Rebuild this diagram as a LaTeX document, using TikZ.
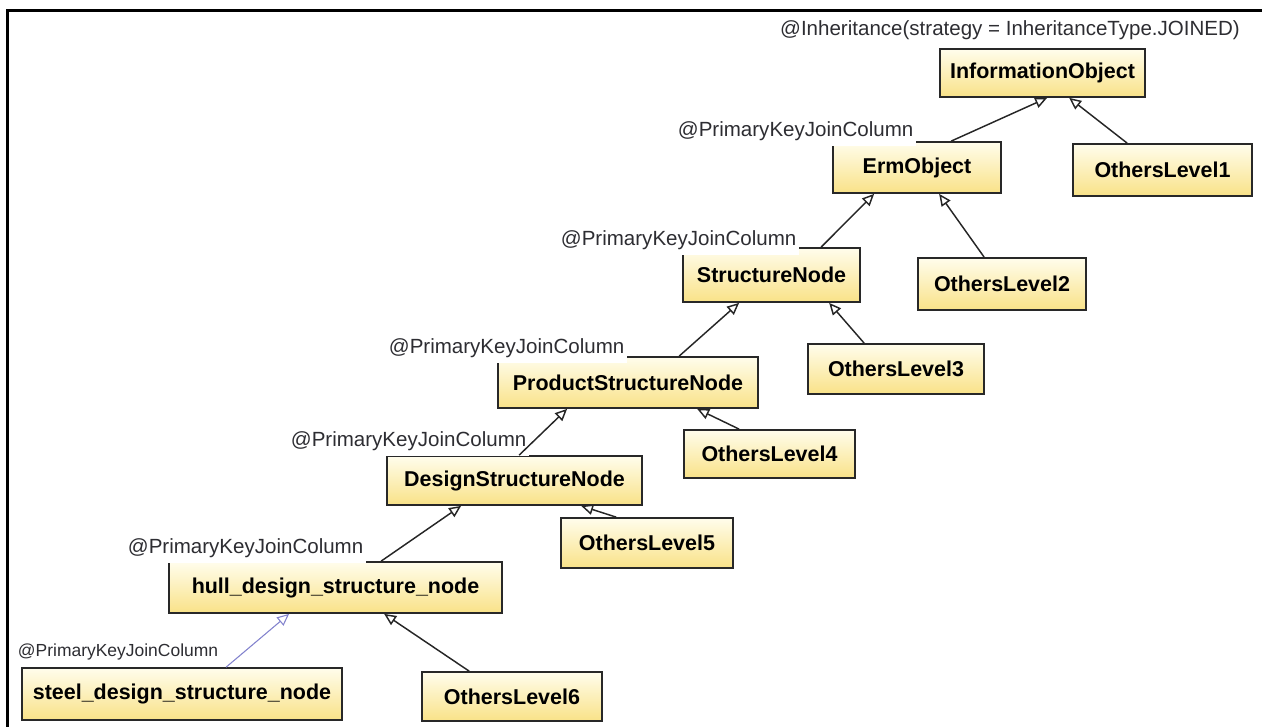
\documentclass[tikz,border=0pt]{standalone}
\usepackage{fontspec}
\setmainfont{Liberation Sans}
\usetikzlibrary{arrows.meta,calc}
\definecolor{boxtop}{RGB}{255,253,236}
\definecolor{boxbot}{RGB}{249,226,136}
\definecolor{boxline}{RGB}{40,40,40}
\definecolor{anntext}{RGB}{45,45,50}
\definecolor{edgeblue}{RGB}{130,130,205}
\begin{document}
\begin{tikzpicture}[x=0.75pt,y=-0.75pt,
  entity/.style 2 args={draw=boxline,line width=1.3pt,top color=boxtop,bottom color=boxbot,
    minimum width=#1*0.75pt,minimum height=#2*0.75pt,inner sep=0pt,
    font=\fontsize{16.1pt}{18pt}\selectfont\bfseries},
  ann/.style={fill=white,text=anntext,anchor=west,inner xsep=2pt,inner ysep=0pt,minimum height=22pt,
    font=\fontsize{15.4pt}{18pt}\selectfont},
  annsmall/.style={ann,minimum height=20pt,font=\fontsize{13.1pt}{15pt}\selectfont},
  inh/.style={line width=1.1pt,draw=black!85,-{Triangle[length=9pt,width=8pt,fill=white]}},
  inhlight/.style={inh,line width=0.8pt,draw=edgeblue}]
\useasboundingbox (0,0) rectangle (1262,727);
% page frame (top and left rules)
\draw[line width=2.25pt] (1262,11) -| (7,727);

% classes
\node[entity={205}{48}] (info)   at (1042.5,73)  {InformationObject};
\node[entity={179}{52}] (ol1)    at (1162.5,170) {OthersLevel1};
\node[entity={168}{51}] (erm)    at (917,167.5)  {ErmObject};
\node[entity={168}{52}] (ol2)    at (1002,284)   {OthersLevel2};
\node[entity={177}{54}] (struct) at (771.5,275)  {StructureNode};
\node[entity={176}{50}] (ol3)    at (896,369)    {OthersLevel3};
\node[entity={260}{51}] (psn)    at (628,382.5)  {ProductStructureNode};
\node[entity={171}{48}] (ol4)    at (769.5,454)  {OthersLevel4};
\node[entity={255}{49}] (dsn)    at (514.5,480.5){DesignStructureNode};
\node[entity={172}{50}] (ol5)    at (647,543)    {OthersLevel5};
\node[entity={333}{51}] (hull)   at (335.5,587.5){hull\_design\_structure\_node};
\node[entity={180}{49}] (ol6)    at (512,696.5)  {OthersLevel6};
\node[entity={320}{52}] (steel)  at (182,694)    {steel\_design\_structure\_node};

% annotations
\node[text=anntext,font=\fontsize{15.4pt}{18pt}\selectfont] (title) at (1010,30) {@Inheritance(strategy = InheritanceType.JOINED)};
\node[ann] (ermann)    at (675,131) {@PrimaryKeyJoinColumn};
\node[ann] (structann) at (558,240) {@PrimaryKeyJoinColumn};
\node[ann] (psnann)    at (386,348) {@PrimaryKeyJoinColumn};
\node[ann] (dsnann)    at (288,441) {@PrimaryKeyJoinColumn};
\node[ann] (hullann)   at (125,548) {@PrimaryKeyJoinColumn};
\node[annsmall] (steelann) at (15,652) {@PrimaryKeyJoinColumn};

% generalizations
\draw[inh] ($(erm.north west)+(119,0)$)    -- ($(info.south west)+(108,0)$);
\draw[inh] ($(ol1.north west)+(55,0)$)     -- ($(info.south west)+(130,0)$);
\draw[inh] ($(struct.north west)+(139,0)$) -- ($(erm.south west)+(42,0)$);
\draw[inh] ($(ol2.north west)+(67,0)$)     -- ($(erm.south west)+(107,0)$);
\draw[inh] ($(psn.north west)+(182,0)$)    -- ($(struct.south west)+(57,0)$);
\draw[inh] ($(ol3.north west)+(57,0)$)     -- ($(struct.south west)+(147,0)$);
\draw[inh] ($(dsn.north west)+(133,0)$)    -- ($(psn.south west)+(70,0)$);
\draw[inh] ($(ol4.north west)+(56,0)$)     -- ($(psn.south west)+(200,0)$);
\draw[inh] ($(hull.north west)+(213,0)$)   -- ($(dsn.south west)+(75,0)$);
\draw[inh] ($(ol5.north west)+(56,0)$)     -- ($(dsn.south west)+(195,0)$);
\draw[inhlight] ($(steel.north west)+(205,0)$) -- ($(hull.south west)+(121,0)$);
\draw[inh] ($(ol6.north west)+(48,0)$)     -- ($(hull.south west)+(216,0)$);
\end{tikzpicture}
\end{document}
